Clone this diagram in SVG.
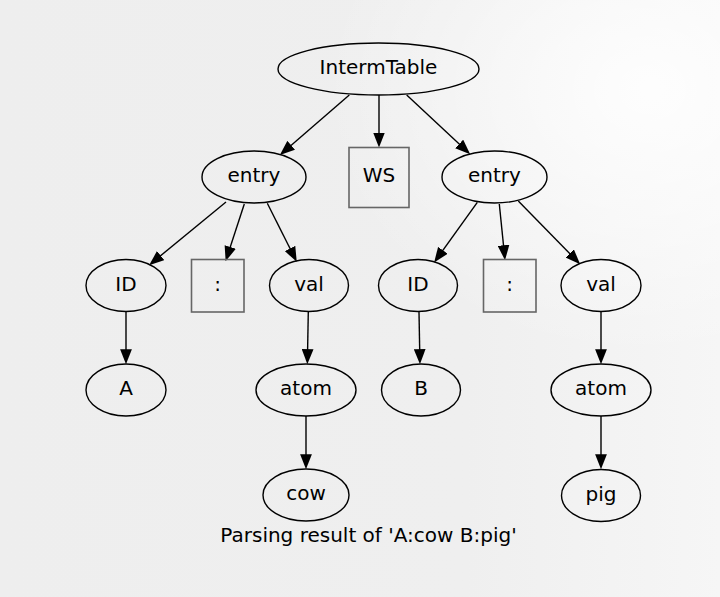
<svg xmlns="http://www.w3.org/2000/svg" width="720" height="597" viewBox="0 0 720 597">
<defs>
<linearGradient id="bg" x1="0" y1="0" x2="1" y2="0">
<stop offset="0" stop-color="#eeeeee"/>
<stop offset="0.65" stop-color="#efefef"/>
<stop offset="1" stop-color="#f6f6f6"/>
</linearGradient>
<radialGradient id="glow" cx="0.9" cy="0.15" r="0.45">
<stop offset="0" stop-color="#ffffff" stop-opacity="0.85"/>
<stop offset="1" stop-color="#ffffff" stop-opacity="0"/>
</radialGradient>
<marker id="arr" markerUnits="userSpaceOnUse" markerWidth="15" markerHeight="12" viewBox="0 0 14 11" refX="11" refY="5.5" orient="auto">
<path d="M0,0 L14,5.5 L0,11 Z" fill="#000"/>
</marker>
</defs>
<style>
.n ellipse{fill:none;stroke:#000;stroke-width:1.4}
.n rect{fill:none;stroke:#666;stroke-width:1.6}
text{font-family:"DejaVu Sans","Liberation Sans",sans-serif;font-size:20px;fill:#000;text-anchor:middle}
#edges line{stroke:#000;stroke-width:1.4;marker-end:url(#arr)}
</style>
<rect width="720" height="597" fill="url(#bg)"/>
<rect width="720" height="597" fill="url(#glow)"/>
<g id="edges">
<line x1="349.3" y1="95" x2="282.3" y2="153"/>
<line x1="379" y1="95" x2="379" y2="144.3"/>
<line x1="406.7" y1="95" x2="467.8" y2="152"/>
<line x1="226" y1="202" x2="151.6" y2="263.1"/>
<line x1="244.3" y1="204" x2="226.6" y2="258.2"/>
<line x1="267.3" y1="203.3" x2="295.3" y2="259"/>
<line x1="126" y1="311.5" x2="126" y2="361"/>
<line x1="308.3" y1="312" x2="307.4" y2="361"/>
<line x1="306" y1="416" x2="306" y2="466"/>
<line x1="477.3" y1="202.3" x2="436" y2="259.9"/>
<line x1="499.3" y1="204" x2="504.7" y2="257"/>
<line x1="518.3" y1="201" x2="577.9" y2="261.9"/>
<line x1="419" y1="312" x2="419.9" y2="361"/>
<line x1="601" y1="312" x2="601" y2="361"/>
<line x1="601" y1="416" x2="601" y2="466"/>
</g>
<g id="n_root" class="n"><ellipse cx="378.5" cy="69" rx="100.5" ry="26"/><text x="378.5" y="74">IntermTable</text></g>
<g id="n_entry1" class="n"><ellipse cx="254" cy="177" rx="52" ry="26"/><text x="254" y="182">entry</text></g>
<g id="n_ws" class="n"><rect x="349" y="147.5" width="60" height="60"/><text x="379" y="182">WS</text></g>
<g id="n_entry2" class="n"><ellipse cx="494.5" cy="177" rx="52.5" ry="26"/><text x="494.5" y="182">entry</text></g>
<g id="n_id1" class="n"><ellipse cx="126" cy="285.5" rx="40" ry="26"/><text x="126" y="290.5">ID</text></g>
<g id="n_colon1" class="n"><rect x="191.5" y="259.5" width="52.5" height="52.5"/><text x="217.7" y="290.5">:</text></g>
<g id="n_val1" class="n"><ellipse cx="309" cy="285.5" rx="39.5" ry="26"/><text x="309" y="290.5">val</text></g>
<g id="n_a" class="n"><ellipse cx="126" cy="390" rx="40" ry="26"/><text x="126" y="395">A</text></g>
<g id="n_atom1" class="n"><ellipse cx="306" cy="390" rx="50" ry="26"/><text x="306" y="395">atom</text></g>
<g id="n_cow" class="n"><ellipse cx="306" cy="495" rx="43" ry="26"/><text x="306" y="500">cow</text></g>
<g id="n_id2" class="n"><ellipse cx="418" cy="285.5" rx="39.5" ry="26"/><text x="418" y="290.5">ID</text></g>
<g id="n_colon2" class="n"><rect x="483.5" y="259.5" width="52.5" height="52.5"/><text x="509.7" y="290.5">:</text></g>
<g id="n_val2" class="n"><ellipse cx="601" cy="285.5" rx="40" ry="26"/><text x="601" y="290.5">val</text></g>
<g id="n_b" class="n"><ellipse cx="421" cy="390" rx="39.5" ry="26"/><text x="421" y="395">B</text></g>
<g id="n_atom2" class="n"><ellipse cx="601" cy="390" rx="50" ry="26"/><text x="601" y="395">atom</text></g>
<g id="n_pig" class="n"><ellipse cx="601" cy="495.5" rx="39.5" ry="26"/><text x="601" y="500.5">pig</text></g>
<text id="caption" x="368.5" y="541.5">Parsing result of 'A:cow B:pig'</text>
</svg>
